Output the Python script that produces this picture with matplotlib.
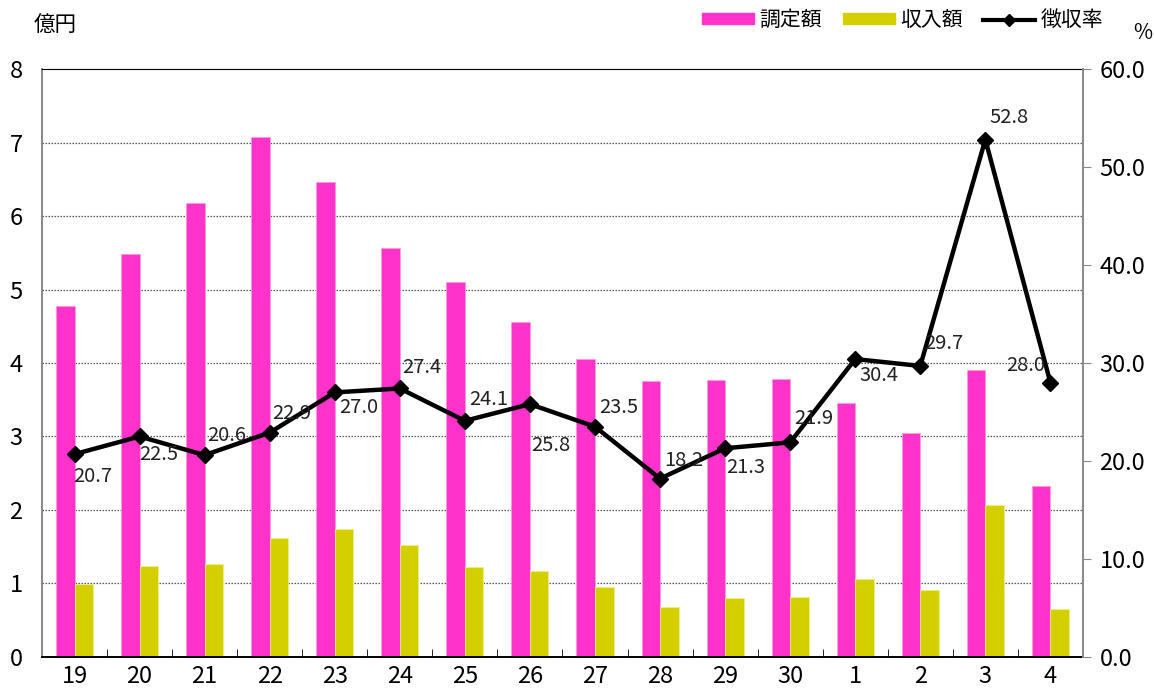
import numpy as np
import matplotlib
matplotlib.use("Agg")
import matplotlib.pyplot as plt
from matplotlib.lines import Line2D
from matplotlib.patches import Patch

plt.rcParams['font.family'] = ['Noto Sans CJK JP', 'DejaVu Sans']

# data
years = ['19', '20', '21', '22', '23', '24', '25', '26', '27', '28', '29', '30', '1', '2', '3', '4']
assessed = [4.78, 5.48, 6.18, 7.07, 6.46, 5.56, 5.10, 4.56, 4.05, 3.76, 3.77, 3.78, 3.46, 3.05, 3.90, 2.33]
collected = [0.99, 1.24, 1.27, 1.62, 1.74, 1.52, 1.22, 1.17, 0.95, 0.68, 0.80, 0.82, 1.06, 0.91, 2.07, 0.65]
rate = [20.7, 22.5, 20.6, 22.9, 27.0, 27.4, 24.1, 25.8, 23.5, 18.2, 21.3, 21.9, 30.4, 29.7, 52.8, 28.0]

# label offsets (points) for the rate annotations
label_off = [(13, -16), (14, -13), (16, 14), (16, 14), (17, -11), (16, 15), (17, 15), (15, -30),
             (17, 14), (17, 13), (15, -14), (17, 17), (17, -12), (17, 16), (17, 16), (-18, 12)]

PINK = '#ff33cc'
YELLOW = '#d4d000'

fig = plt.figure(figsize=(11.54, 6.95), dpi=100)
ax = fig.add_axes([0.0364, 0.0547, 0.902, 0.846])
ax2 = ax.twinx()

x = np.arange(len(years))
w = 0.285
ax.bar(x - w / 2, assessed, w, color=PINK, edgecolor='#ff99e0', linewidth=0.6, zorder=2)
ax.bar(x + w / 2, collected, w, color=YELLOW, edgecolor='#eeee88', linewidth=0.6, zorder=2)

ax.set_xlim(-0.5, len(years) - 0.5)
ax.set_ylim(0, 8)
ax.set_yticks(range(0, 9))
ax.set_xticks(x)
ax.set_xticklabels(years)
ax.set_xticks(np.arange(0.5, len(years) - 1, 1), minor=True)
ax.tick_params(axis='x', which='major', length=0, labelsize=17, pad=6)
ax.tick_params(axis='x', which='minor', direction='in', length=6, color='black')
ax.tick_params(axis='y', length=0, labelsize=17, pad=14)
for v in range(1, 8):
    ax.axhline(v, color='#555555', lw=0.9, ls=(0, (1.2, 1.2)), zorder=1)

ax.spines['top'].set_color('black')
ax.spines['bottom'].set_color('black')
ax.spines['bottom'].set_linewidth(1.4)
ax.spines['left'].set_color('#888888')
ax.spines['left'].set_linewidth(1.4)
ax.spines['right'].set_visible(False)
ax2.spines['right'].set_color('#888888')
ax2.spines['right'].set_linewidth(1.4)
for s in ['top', 'left', 'bottom']:
    ax2.spines[s].set_visible(False)

ax2.plot(x, rate, color='black', lw=3.2, marker='D', markersize=8, zorder=5)
ax2.set_ylim(0, 60)
ax2.set_yticks(np.arange(0, 61, 10))
ax2.set_yticklabels([f'{v:.1f}' for v in np.arange(0, 61, 10)])
ax2.tick_params(axis='y', direction='out', length=6, color='#888888', labelsize=17, pad=6)

for xi, r, (dx, dy) in zip(x, rate, label_off):
    ax2.annotate(f'{r:.1f}', (xi, r), xytext=(dx, dy), textcoords='offset points',
                 ha='center', va='center', fontsize=14.5, color='#222222', zorder=6)

fig.text(0.029, 0.963, '億円', fontsize=15.5, ha='left', va='center')
fig.text(0.99, 0.952, '%', fontsize=15, ha='center', va='center')

handles = [Patch(color=PINK), Patch(color=YELLOW),
           Line2D([], [], color='black', lw=3, marker='D', markersize=6)]
fig.legend(handles, ['調定額', '収入額', '徴収率'], loc='center right',
           bbox_to_anchor=(0.965, 0.971), ncol=3, frameon=False, fontsize=15,
           handlelength=2.5, handleheight=0.4, columnspacing=1.0, handletextpad=0.25,
           borderpad=0)

plt.savefig('out.png', dpi=100)
